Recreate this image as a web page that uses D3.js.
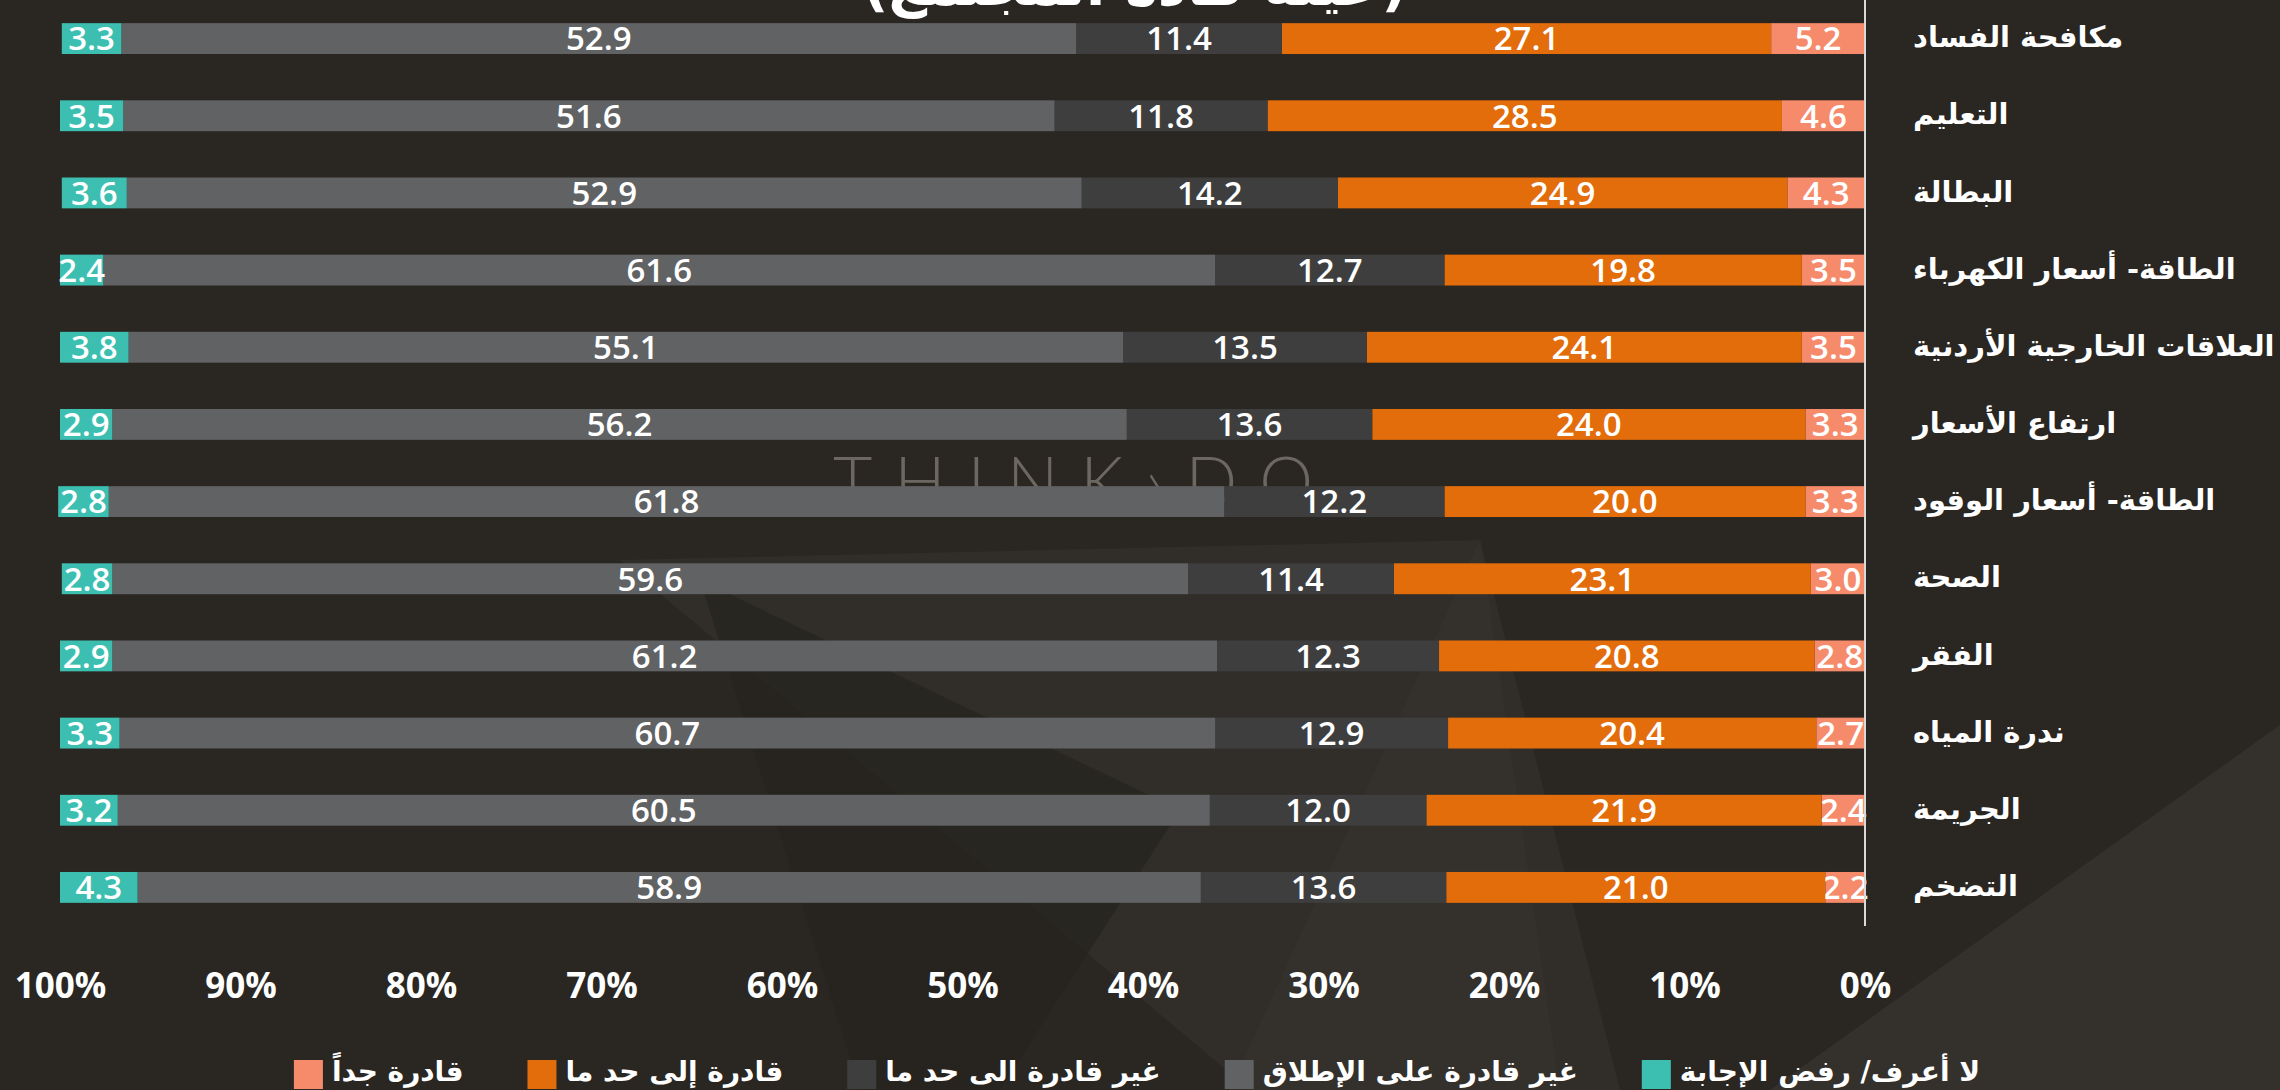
<!DOCTYPE html>
<html>
<head>
<meta charset="utf-8">
<script src="https://cdn.jsdelivr.net/npm/d3@7"></script>
<style>
  html, body { margin: 0; padding: 0; background: #2a2723; }
  svg { display: block; }
</style>
</head>
<body>
<div id="chart"></div>
<script>
  // categories, top to bottom
  var categories = ["مكافحة الفساد", "التعليم", "البطالة", "الطاقة- أسعار الكهرباء",
    "العلاقات الخارجية الأردنية", "ارتفاع الأسعار", "الطاقة- أسعار الوقود", "الصحة",
    "الفقر", "ندرة المياه", "الجريمة", "التضخم"];

  // series values (percent), same order as categories
  var veryAble       = [5.2, 4.6, 4.3, 3.5, 3.5, 3.3, 3.3, 3.0, 2.8, 2.7, 2.4, 2.2];
  var somewhatAble   = [27.1, 28.5, 24.9, 19.8, 24.1, 24.0, 20.0, 23.1, 20.8, 20.4, 21.9, 21.0];
  var somewhatUnable = [11.4, 11.8, 14.2, 12.7, 13.5, 13.6, 12.2, 11.4, 12.3, 12.9, 12.0, 13.6];
  var notAtAll       = [52.9, 51.6, 52.9, 61.6, 55.1, 56.2, 61.8, 59.6, 61.2, 60.7, 60.5, 58.9];
  var dontKnow       = [3.3, 3.5, 3.6, 2.4, 3.8, 2.9, 2.8, 2.8, 2.9, 3.3, 3.2, 4.3];

  var seriesNames = ["قادرة جداً", "قادرة إلى حد ما", "غير قادرة الى حد ما",
    "غير قادرة على الإطلاق", "لا أعرف/ رفض الإجابة"];
  var seriesColors = ["#f58b6b", "#e36c0b", "#3e3e3f", "#616264", "#3cbfb1"];

  var tickValues = [0, 10, 20, 30, 40, 50, 60, 70, 80, 90, 100];
  var title = "(عينة قادة المجتمع)";

  var W = 2280, H = 1090;
  var svg = d3.select("#chart").append("svg")
    .attr("width", W)
    .attr("height", H);

  // background shading (photo-like, subtle)
  var bg = svg.append("g");
  bg.append("rect").attr("width", W).attr("height", H).attr("fill", "#2a2723");
  bg.append("path").attr("d", "M620,560 L1250,1090 L1620,1090 L1480,540 Z")
    .attr("fill", "#312e2a");
  bg.append("path").attr("d", "M1230,1090 L1480,540 L1560,1090 Z")
    .attr("fill", "#34312d");
  bg.append("path").attr("d", "M1770,1090 L2280,725 L2280,1090 Z")
    .attr("fill", "#34312d");
  bg.append("path").attr("d", "M700,580 L1180,810 L1000,1090 L860,1090 Z")
    .attr("fill", "#27241f").attr("opacity", 0.8);

  // watermark
  svg.append("text")
    .attr("x", 833).attr("y", 506)
    .attr("textLength", 480).attr("lengthAdjust", "spacing")
    .style("font-family", "Lato, 'DejaVu Sans'")
    .style("font-weight", 300)
    .style("font-size", "68px")
    .style("fill", "#6d6761")
    .text("THINK›DO");

  // build table for stack
  var keys = ["veryAble", "somewhatAble", "somewhatUnable", "notAtAll", "dontKnow"];
  var table = categories.map(function(c, i) {
    return { cat: c, veryAble: veryAble[i], somewhatAble: somewhatAble[i],
      somewhatUnable: somewhatUnable[i], notAtAll: notAtAll[i], dontKnow: dontKnow[i] };
  });
  var stacked = d3.stack().keys(keys)(table);

  var x = d3.scaleLinear().domain([0, 100]).range([1865, 60]);
  var y = d3.scaleBand().domain(categories).range([0, 926])
    .paddingInner(0.6).paddingOuter(0.3);

  // bars
  var layers = svg.selectAll("g.layer")
    .data(stacked)
    .enter().append("g")
      .attr("class", "layer")
      .attr("fill", function(d, i) { return seriesColors[i]; });

  layers.selectAll("rect")
    .data(function(d) { return d; })
    .enter().append("rect")
      .attr("x", function(d) { return x(d[1]); })
      .attr("y", function(d) { return y(d.data.cat); })
      .attr("width", function(d) { return x(d[0]) - x(d[1]); })
      .attr("height", y.bandwidth());

  // value labels
  layers.selectAll("text")
    .data(function(d) { return d; })
    .enter().append("text")
      .attr("x", function(d) { return (x(d[0]) + x(d[1])) / 2; })
      .attr("y", function(d) { return y(d.data.cat) + y.bandwidth() / 2; })
      .attr("dy", "0.36em")
      .attr("text-anchor", "middle")
      .style("font-family", "'Open Sans', 'Noto Sans', sans-serif")
      .style("font-weight", 600)
      .style("font-size", "33px")
      .style("fill", "#ffffff")
      .text(function(d) { return (d[1] - d[0]).toFixed(1); });

  // vertical line at 0%
  svg.append("line")
    .attr("x1", x(0)).attr("x2", x(0))
    .attr("y1", 0).attr("y2", 926)
    .attr("stroke", "#d9d9d9")
    .attr("stroke-width", 2);

  // category labels
  svg.append("g").selectAll("text")
    .data(categories)
    .enter().append("text")
      .attr("x", 1913)
      .attr("y", function(d) { return y(d) + y.bandwidth() / 2; })
      .attr("dy", "0.3em")
      .style("font-family", "'DejaVu Sans', sans-serif")
      .style("font-weight", "bold")
      .style("font-size", "29px")
      .style("fill", "#ffffff")
      .text(function(d) { return d; });

  // x axis
  var xAxis = svg.append("g")
    .attr("transform", "translate(0,926)")
    .call(d3.axisBottom(x)
      .tickValues(tickValues)
      .tickSize(0)
      .tickPadding(47)
      .tickFormat(function(d) { return d + "%"; }));
  xAxis.select(".domain").remove();
  xAxis.selectAll("text")
    .style("font-family", "'Open Sans', 'Noto Sans', sans-serif")
    .style("font-weight", "bold")
    .style("font-size", "35px")
    .style("fill", "#ffffff");

  // title (mostly cut off at top)
  svg.append("text")
    .attr("x", 1135).attr("y", 5)
    .attr("text-anchor", "middle")
    .style("font-family", "'DejaVu Sans', sans-serif")
    .style("font-weight", "bold")
    .style("font-size", "56px")
    .style("fill", "#ffffff")
    .text(title);

  // legend, laid out left to right, centred on the page
  var legend = svg.append("g");
  var items = legend.selectAll("g")
    .data(seriesNames)
    .enter().append("g");
  items.append("rect")
    .attr("width", 29).attr("height", 29)
    .attr("y", 1060)
    .attr("fill", function(d, i) { return seriesColors[i]; });
  items.append("text")
    .attr("x", 38).attr("y", 1081)
    .style("font-family", "'DejaVu Sans', sans-serif")
    .style("font-weight", "bold")
    .style("font-size", "28px")
    .style("fill", "#ffffff")
    .text(function(d) { return d; });

  var pos = 0;
  items.each(function() {
    var w = 38 + d3.select(this).select("text").node().getComputedTextLength();
    d3.select(this).attr("transform", "translate(" + pos + ",0)");
    pos += w + 64;
  });
  var total = pos - 64;
  legend.attr("transform", "translate(" + (1137 - total / 2) + ",0)");
</script>
</body>
</html>
